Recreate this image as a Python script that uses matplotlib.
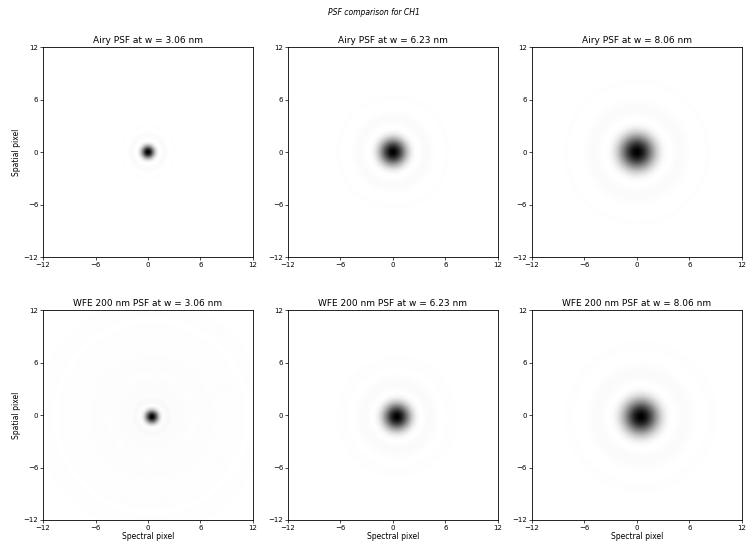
import matplotlib.pyplot as plt
import numpy as np

# Wavelengths (um) shown in the panel titles, and the wavefront error (nm)
wavelengths = [3.06, 6.23, 8.06]
wfe_nm = 200
channel = "CH1"

# First dark ring radius of the Airy pattern, in pixels per um of wavelength
ring_scale = 0.46
# Centroid shift of the aberrated PSF (pixels)
wfe_shift = (0.45, -0.2)

half = 12
ticks = [-12, -6, 0, 6, 12]


def bessel_j1(x):
    # J1 by trapezoidal integration of its integral form
    tau = np.linspace(0, np.pi, 200)
    vals = np.cos(tau[None, :] - x.ravel()[:, None] * np.sin(tau[None, :]))
    return (np.trapezoid(vals, tau, axis=1) / np.pi).reshape(x.shape)


def airy(xx, yy, lam, dx=0.0, dy=0.0):
    r = np.hypot(xx - dx, yy - dy)
    v = 3.8317 * r / (ring_scale * lam)
    v = np.where(v == 0, 1e-9, v)
    return (2 * bessel_j1(v) / v) ** 2


grid = np.linspace(-half, half, 241)
xx, yy = np.meshgrid(grid, grid)

fig = plt.figure(figsize=(7.47, 5.45), dpi=100)
fig.suptitle(f"PSF comparison for {channel}", fontsize=5.5, style="italic", y=0.985)

lefts = [0.0576, 0.3855, 0.712]
bottoms = [0.5284, 0.0459]
w, h = 0.281, 0.385

for row in range(2):
    for col, lam in enumerate(wavelengths):
        ax = fig.add_axes([lefts[col], bottoms[row], w, h])
        if row == 0:
            img = airy(xx, yy, lam)
            title = f"Airy PSF at w = {lam:.2f} nm"
        else:
            strehl = np.exp(-(2 * np.pi * wfe_nm * 1e-3 / lam) ** 2)
            core = airy(xx, yy, lam, *wfe_shift)
            r = np.hypot(xx - wfe_shift[0], yy - wfe_shift[1])
            halo = np.exp(-r ** 2 / (2 * 10.0 ** 2))
            ripple = 1 + 0.3 * np.cos(r * 2.0)
            img = strehl * core + (1 - strehl) * 0.05 * halo * ripple
            title = f"WFE {wfe_nm} nm PSF at w = {lam:.2f} nm"
        ax.imshow(img / img.max(), cmap="gray_r", origin="lower",
                  extent=[-half, half, -half, half], vmin=0, vmax=1,
                  interpolation="bilinear")
        ax.set_title(title, fontsize=6.5, pad=3)
        ax.set_xticks(ticks)
        ax.set_yticks(ticks)
        ax.tick_params(labelsize=5, length=2, width=0.5, pad=1.5)
        for s in ax.spines.values():
            s.set_linewidth(0.6)
        if col == 0:
            ax.set_ylabel("Spatial pixel", fontsize=5.5, labelpad=2)
        if row == 1:
            ax.set_xlabel("Spectral pixel", fontsize=5.5, labelpad=1)

fig.savefig("out.png", dpi=100)
